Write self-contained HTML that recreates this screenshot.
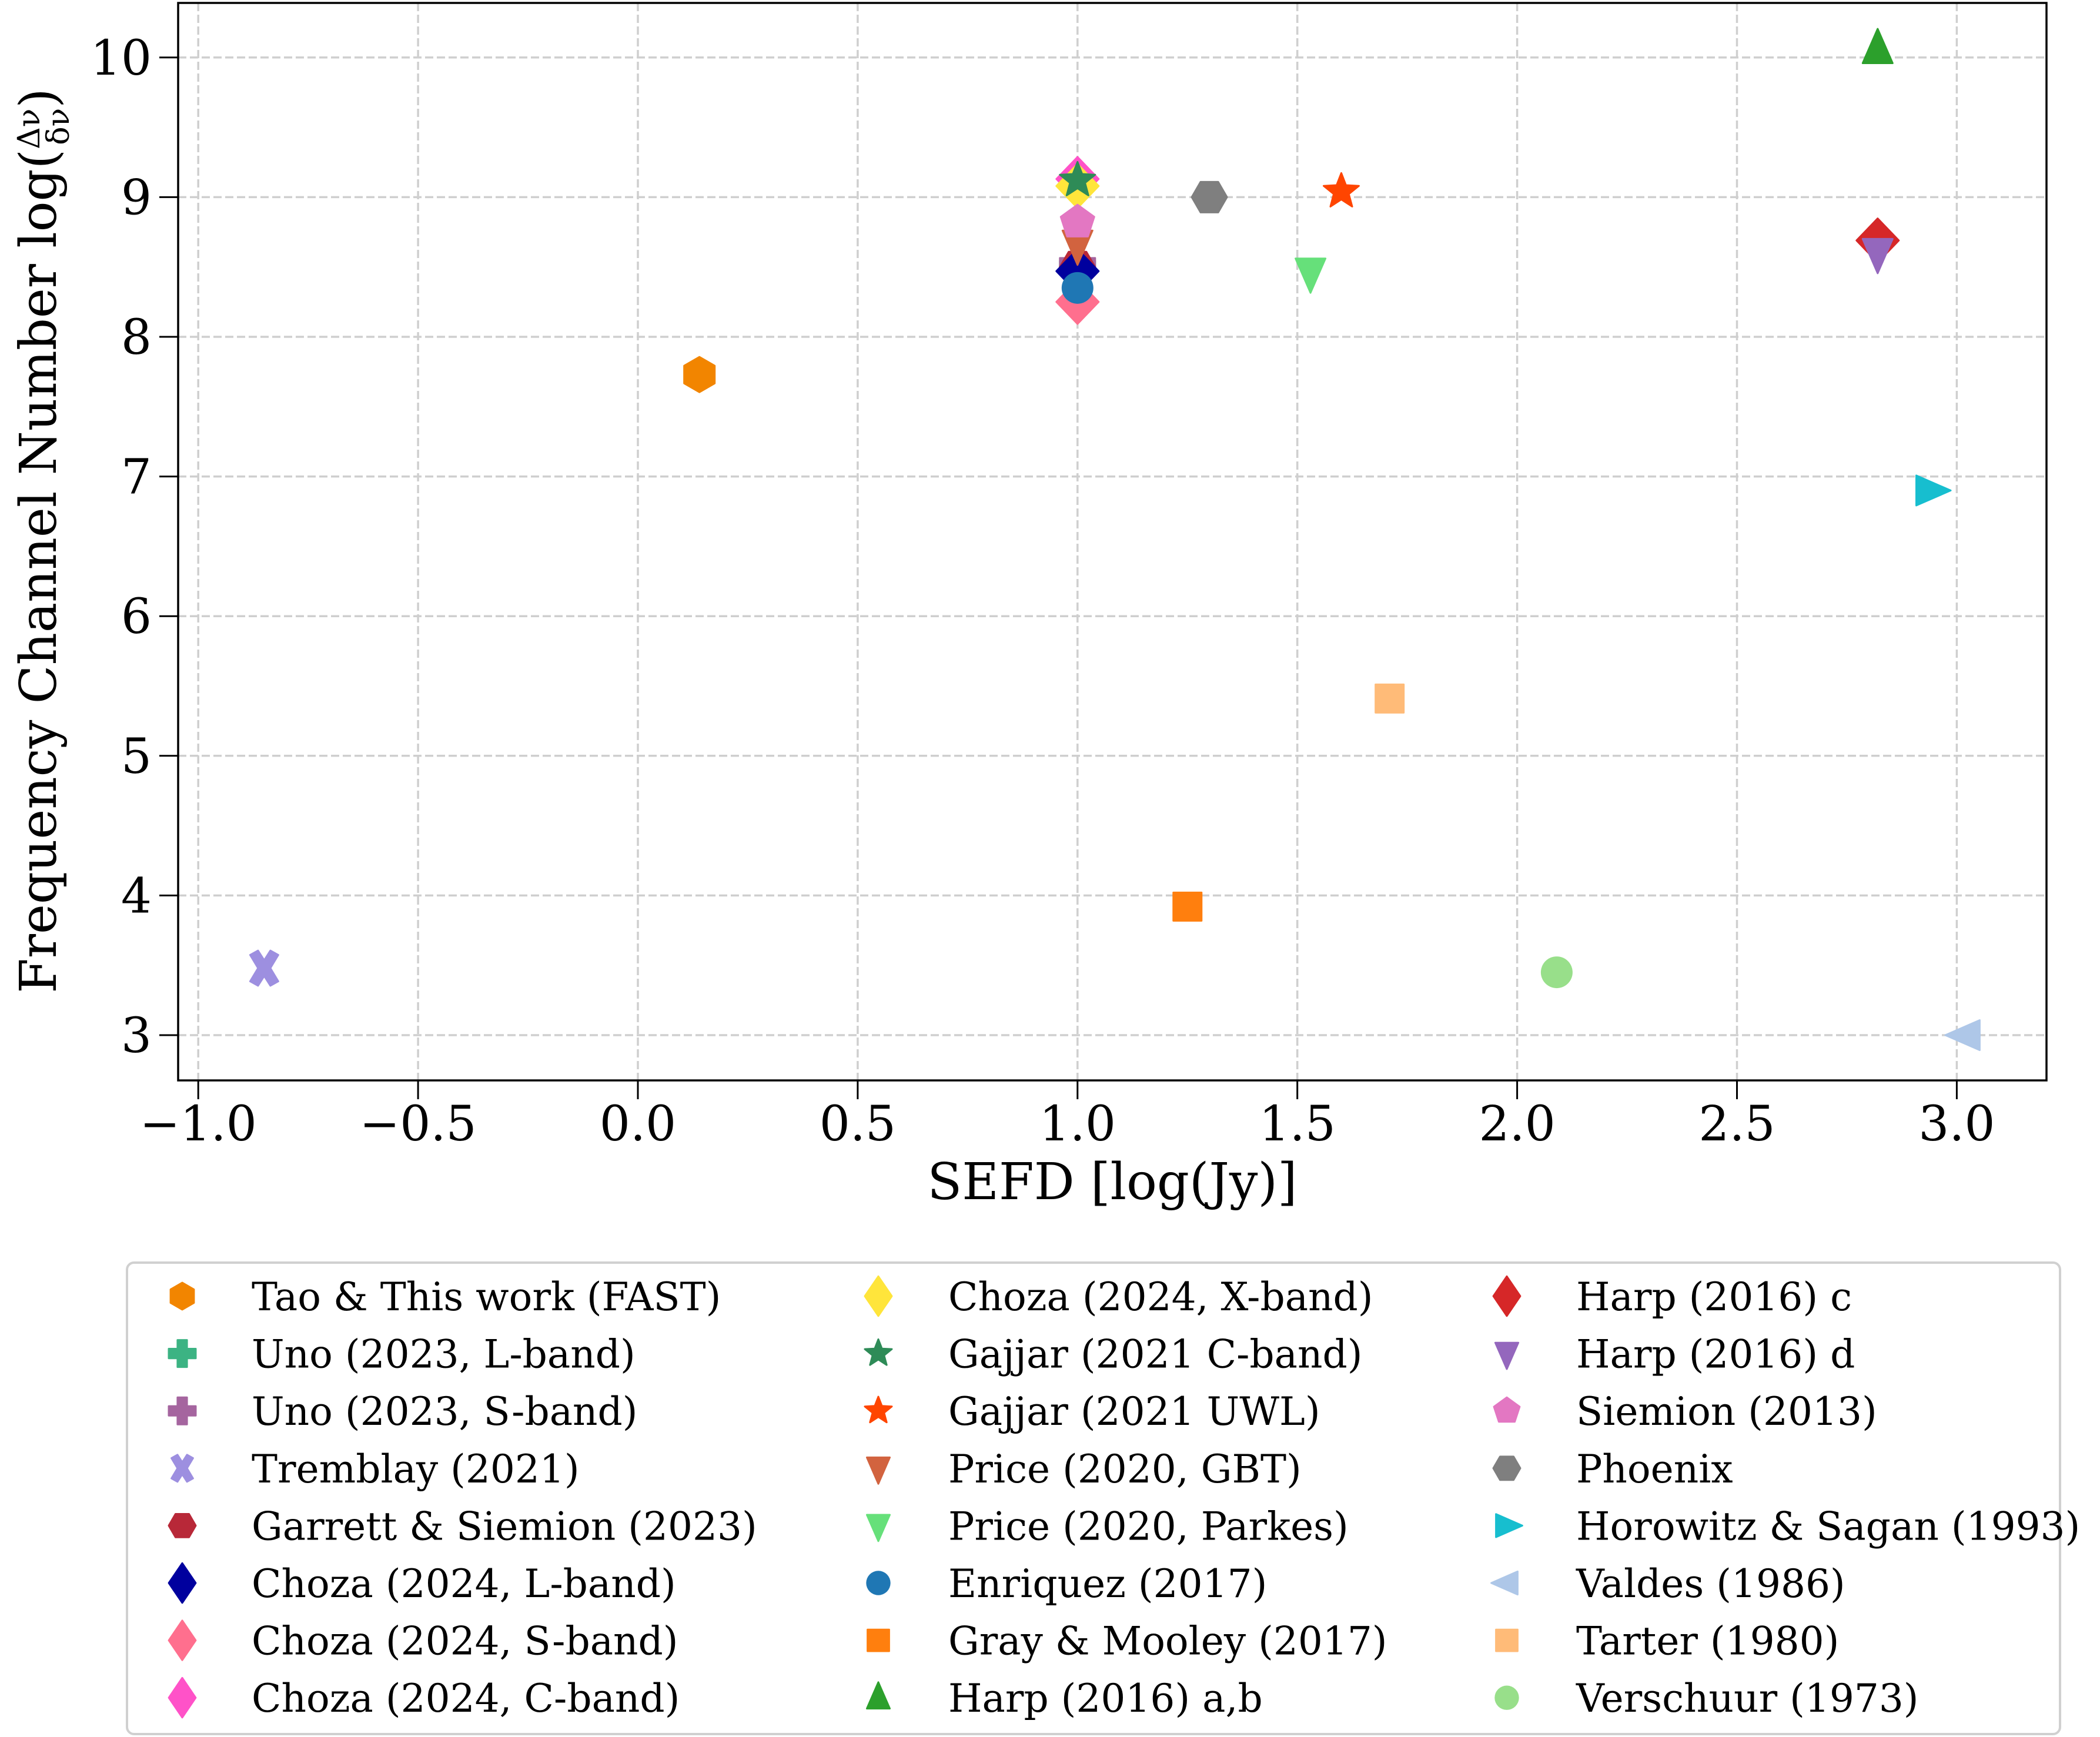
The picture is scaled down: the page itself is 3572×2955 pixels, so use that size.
<!DOCTYPE html>
<html><head><meta charset="utf-8"><style>
html,body{margin:0;padding:0;background:#fff;}
svg{display:block;font-family:"DejaVu Serif","Liberation Serif",serif;}
</style></head><body>
<svg id="chart" width="3572" height="2955" viewBox="0 0 3572 2955" xmlns="http://www.w3.org/2000/svg">
<g id="grid"></g>
<g id="marks"></g>
<rect x="303" y="5" width="3178" height="1833" fill="none" stroke="#000" stroke-width="3.5"/>
<g id="ticks"></g>
<text x="1892" y="2040" font-size="86" text-anchor="middle">SEFD [log(Jy)]</text>
<text transform="translate(95,920) rotate(-90)" font-size="86" text-anchor="middle">Frequency Channel Number log(<tspan font-size="52" dy="-28">Δν</tspan><tspan font-size="52" dx="-62" dy="50">δν</tspan><tspan dy="-22">)</tspan></text>
<rect x="216" y="2148" width="3288" height="802" rx="12" fill="#fff" stroke="#d0d0d0" stroke-width="4"/>
<g id="legend"></g>
</svg>
<script>
const labels = ["Tao & This work (FAST)","Uno (2023, L-band)","Uno (2023, S-band)","Tremblay (2021)","Garrett & Siemion (2023)","Choza (2024, L-band)","Choza (2024, S-band)","Choza (2024, C-band)","Choza (2024, X-band)","Gajjar (2021 C-band)","Gajjar (2021 UWL)","Price (2020, GBT)","Price (2020, Parkes)","Enriquez (2017)","Gray & Mooley (2017)","Harp (2016) a,b","Harp (2016) c","Harp (2016) d","Siemion (2013)","Phoenix","Horowitz & Sagan (1993)","Valdes (1986)","Tarter (1980)","Verschuur (1973)"];
const sefd = [0.14,1.0,1.0,-0.85,1.0,1.0,1.0,1.0,1.0,1.0,1.6,1.0,1.53,1.0,1.25,2.82,2.82,2.82,1.0,1.3,2.94,3.02,1.71,2.09];
const chan = [7.73,8.5,8.52,3.48,8.5,8.47,8.25,9.13,9.08,9.12,9.04,8.66,8.46,8.35,3.92,10.06,8.69,8.6,8.82,9.0,6.9,3.0,5.41,3.45];
const shapes = ["h","P","P","X","H","d","d","d","d","*","*","v","v","o","s","^","d","v","p","H",">","<","s","o"];
const colors = ["#f28500","#3cb383","#a5659f","#9d8fe0","#b82838","#00009e","#ff6f8e","#ff52c8","#ffe53b","#2e8b57","#ff4500","#d2633f","#66e07a","#1f77b4","#ff7f0e","#2ca02c","#d62728","#9467bd","#e377c2","#7f7f7f","#17becf","#aec7e8","#ffbb78","#98df8a"];
const xTicks = [-1.0,-0.5,0.0,0.5,1.0,1.5,2.0,2.5,3.0];
const xTickLabels = ["\u22121.0","\u22120.5","0.0","0.5","1.0","1.5","2.0","2.5","3.0"];
const yTicks = [3,4,5,6,7,8,9,10];
const yTickLabels = ["3","4","5","6","7","8","9","10"];

const NS="http://www.w3.org/2000/svg";
function X(v){return 1085+v*747.8;}
function Y(v){return 1761-(v-3)*237.6;}
function mk(tag,attrs,parent){const e=document.createElementNS(NS,tag);for(const k in attrs)e.setAttribute(k,attrs[k]);parent.appendChild(e);return e;}
function poly(n,r,rot){const p=[];for(let i=0;i<n;i++){const a=rot+i*2*Math.PI/n;p.push([r*Math.cos(a),r*Math.sin(a)]);}return p;}
function shapePts(s,r,dw){
  switch(s){
    case "h": return poly(6,r,-Math.PI/2);
    case "H": return poly(6,r,0);
    case "p": return poly(5,r,-Math.PI/2);
    case "d": return [[0,-r*1.25],[r*dw,0],[0,r*1.25],[-r*dw,0]];
    case "^": return [[0,-r*1.15],[r*0.85,r*0.8],[-r*0.85,r*0.8]];
    case "v": return [[0,r*1.15],[r*0.85,-r*0.8],[-r*0.85,-r*0.8]];
    case ">": return [[r*1.15,0],[-r*0.8,r*0.85],[-r*0.8,-r*0.85]];
    case "<": return [[-r*1.15,0],[r*0.8,r*0.85],[r*0.8,-r*0.85]];
    case "s": return [[-r*0.8,-r*0.8],[r*0.8,-r*0.8],[r*0.8,r*0.8],[-r*0.8,r*0.8]];
    case "P": {const a=r*0.35,b=r;return [[-a,-b],[a,-b],[a,-a],[b,-a],[b,a],[a,a],[a,b],[-a,b],[-a,a],[-b,a],[-b,-a],[-a,-a]];}
    case "X": {const p=[[-0.35,-1],[0,-0.45],[0.35,-1],[0.8,-0.75],[0.35,0],[0.8,0.75],[0.35,1],[0,0.45],[-0.35,1],[-0.8,0.75],[-0.35,0],[-0.8,-0.75]];return p.map(q=>[q[0]*r,q[1]*r]);}
    case "*": {const p=[];for(let i=0;i<10;i++){const a=-Math.PI/2+i*Math.PI/5;const rr=i%2?r*0.45:r*1.05;p.push([rr*Math.cos(a),rr*Math.sin(a)]);}return p;}
  }
  return null;
}
function drawMarker(parent,s,cx,cy,r,color,dw){
  let el;
  if(s==="o"){el=mk("ellipse",{cx:cx,cy:cy,rx:r*0.9,ry:r*0.9,fill:color},parent);}
  else{const pts=shapePts(s,r,dw).map(p=>(cx+p[0]).toFixed(1)+","+(cy+p[1]).toFixed(1)).join(" ");
    el=mk("polygon",{points:pts,fill:color,stroke:color,"stroke-width":3,"stroke-linejoin":"round"},parent);}
  return el;
}
const grid=document.getElementById("grid"),ticks=document.getElementById("ticks"),marks=document.getElementById("marks"),leg=document.getElementById("legend");
xTicks.forEach((v,i)=>{
  const l=mk("line",{x1:X(v),x2:X(v),y1:5,y2:1838,stroke:"#cfcfcf","stroke-width":3.5,"stroke-dasharray":"14,6"},grid);
  
  
  mk("line",{x1:X(v),x2:X(v),y1:1838,y2:1870,stroke:"#000","stroke-width":3},ticks);
  const t=mk("text",{x:X(v),y:1940,"font-size":82,"text-anchor":"middle"},ticks);t.textContent=xTickLabels[i];
  
  
});
yTicks.forEach((v,i)=>{
  const l=mk("line",{x1:303,x2:3481,y1:Y(v),y2:Y(v),stroke:"#cfcfcf","stroke-width":3.5,"stroke-dasharray":"14,6"},grid);
  
  
  mk("line",{x1:271,x2:303,y1:Y(v),y2:Y(v),stroke:"#000","stroke-width":3},ticks);
  const t=mk("text",{x:258,y:Y(v)+29,"font-size":82,"text-anchor":"end"},ticks);t.textContent=yTickLabels[i];
  
  
});
for(let i=0;i<labels.length;i++){
  const m=drawMarker(marks,shapes[i],X(sefd[i]),Y(chan[i]),shapes[i]==="d"?30:30,colors[i],1.2);
  
  
  const col=Math.floor(i/8),row=i%8;
  const lx=[310,1494,2563][col],tx=[428,1613,2681][col],ly=2205+row*97.6;
  const lm=drawMarker(leg,shapes[i],lx,ly,shapes[i]==="d"?27:23,colors[i],0.85);
  
  
  const t=mk("text",{x:tx,y:ly+24,"font-size":66},leg);t.textContent=labels[i];
  
  
}
</script>
</body></html>
